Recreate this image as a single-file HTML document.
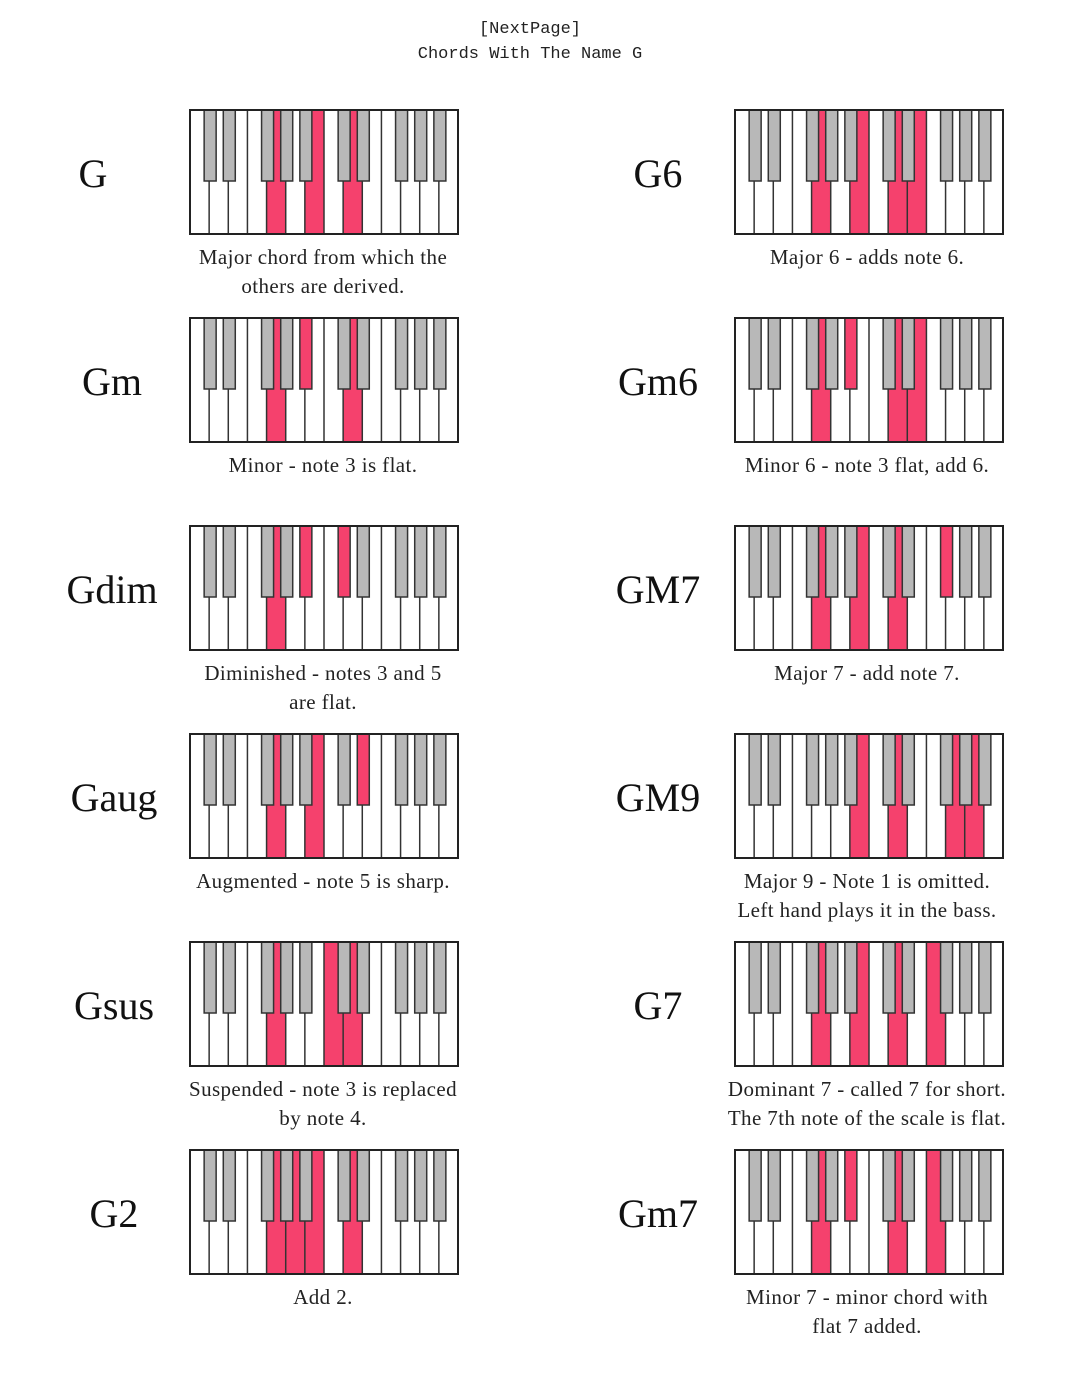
<!DOCTYPE html>
<html><head><meta charset="utf-8"><style>
html,body{margin:0;padding:0;background:#fff;width:1080px;height:1379px;overflow:hidden}
#c{position:relative;width:1080px;height:1379px}
.t{position:absolute;left:0;width:1060px;text-align:center;font-family:"Liberation Mono",monospace;font-size:17px;color:#222}
.n{position:absolute;font-family:"Liberation Serif",serif;font-size:40px;color:#111;width:120px;text-align:center}
.d{position:absolute;font-family:"Liberation Serif",serif;font-size:21px;color:#222;width:420px;text-align:center;line-height:29px;letter-spacing:0.4px}
svg{position:absolute}
</style></head><body><div id="c">
<div class="t" style="top:20px">[NextPage]</div>
<div class="t" style="top:45px">Chords With The Name G</div>
</div>
<script>
var C=document.getElementById('c');
var chords=[
['G',[7,11,14],'Major chord from which the<br>others are derived.',93],
['G6',[7,11,14,16],'Major 6 - adds note 6.',658],
['Gm',[7,10,14],'Minor - note 3 is flat.',112],
['Gm6',[7,10,14,16],'Minor 6 - note 3 flat, add 6.',658],
['Gdim',[7,10,13],'Diminished - notes 3 and 5<br>are flat.',112],
['GM7',[7,11,14,18],'Major 7 - add note 7.',658],
['Gaug',[7,11,15],'Augmented - note 5 is sharp.',114],
['GM9',[11,14,19,21],'Major 9 - Note 1 is omitted.<br>Left hand plays it in the bass.',658],
['Gsus',[7,12,14],'Suspended - note 3 is replaced<br>by note 4.',114],
['G7',[7,11,14,17],'Dominant 7 - called 7 for short.<br>The 7th note of the scale is flat.',658],
['G2',[7,9,11,14],'Add 2.',114],
['Gm7',[7,10,14,17],'Minor 7 - minor chord with<br>flat 7 added.',658]];
var wm={0:0,2:1,4:2,5:3,7:4,9:5,11:6},bm={1:1,3:2,6:4,8:5,10:6};
var W=268/14;
chords.forEach(function(ch,i){
 var col=i%2,row=Math.floor(i/2);
 var kx=col?735:190,ky=110+row*208,cx=col?867:323,nx=ch[3];
 var s='<svg style="left:'+(kx-2)+'px;top:'+(ky-2)+'px" width="274" height="130"><g transform="translate(2,2)">';
 s+='<rect x="0" y="0" width="268" height="124" fill="#fff"/>';
 var reds={};ch[1].forEach(function(n){reds[n]=1});
 for(var k=0;k<24;k++){if(reds[k]&&wm[k%12]!==undefined){var wi=wm[k%12]+7*Math.floor(k/12);s+='<rect x="'+(wi*W)+'" y="0" width="'+W+'" height="124" fill="#f5416d"/>';}}
 for(var b=1;b<14;b++)s+='<line x1="'+(b*W)+'" y1="0" x2="'+(b*W)+'" y2="124" stroke="#333" stroke-width="1.5"/>';
 for(var k=0;k<24;k++){if(bm[k%12]!==undefined){var bi=bm[k%12]+7*Math.floor(k/12);s+='<rect x="'+(bi*W-5)+'" y="0" width="12" height="71" fill="'+(reds[k]?'#f5416d':'#b8b8b8')+'" stroke="#333" stroke-width="1.5"/>';}}
 s+='<rect x="0" y="0" width="268" height="124" fill="none" stroke="#222" stroke-width="2"/></g></svg>';
 C.insertAdjacentHTML('beforeend',s);
 C.insertAdjacentHTML('beforeend','<div class="n" style="left:'+(nx-60)+'px;top:'+(ky+40)+'px">'+ch[0]+'</div>');
 C.insertAdjacentHTML('beforeend','<div class="d" style="left:'+(cx-210)+'px;top:'+(ky+133)+'px">'+ch[2]+'</div>');
});
</script></body></html>
